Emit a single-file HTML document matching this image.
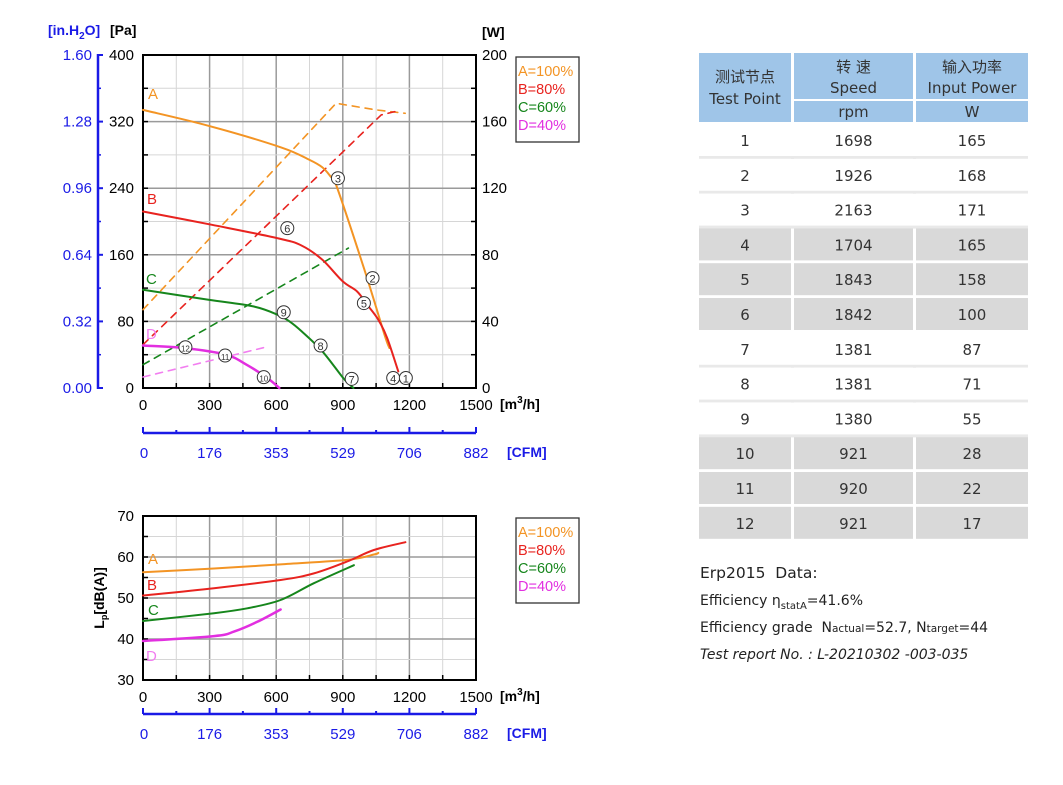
<!DOCTYPE html>
<html><head><meta charset="utf-8">
<style>
html,body{margin:0;padding:0;background:#fff;}
svg{display:block;}
text{font-family:"Liberation Sans",Arial,sans-serif;}
.t{font-family:"DejaVu Sans","Noto Sans CJK SC",sans-serif;}
</style></head>
<body>
<svg id="s" width="1063" height="785" viewBox="0 0 1063 785" xmlns="http://www.w3.org/2000/svg"></svg>
<script>
const S=document.getElementById('s');let h='';
const X=q=>143+q*333/1500, YP=p=>388-p*333/400, YW=w=>388-w*333/200, YD=d=>680-(d-30)*164/40;
function pl(pts,fy,col,w,dash){const P=pts.map(p=>[X(p[0]),fy(p[1])]);let d='M'+P[0][0].toFixed(1)+','+P[0][1].toFixed(1);
for(let i=0;i<P.length-1;i++){if(dash){d+='L'+P[i+1][0].toFixed(1)+','+P[i+1][1].toFixed(1);continue;}
const p0=P[Math.max(0,i-1)],p1=P[i],p2=P[i+1],p3=P[Math.min(P.length-1,i+2)];
const c1=[p1[0]+(p2[0]-p0[0])/6,p1[1]+(p2[1]-p0[1])/6],c2=[p2[0]-(p3[0]-p1[0])/6,p2[1]-(p3[1]-p1[1])/6];
d+=`C${c1[0].toFixed(1)},${c1[1].toFixed(1)} ${c2[0].toFixed(1)},${c2[1].toFixed(1)} ${p2[0].toFixed(1)},${p2[1].toFixed(1)}`;}
h+=`<path d="${d}" fill="none" stroke="${col}" stroke-width="${w}" ${dash?'stroke-dasharray="7,6"':''} stroke-linejoin="round" stroke-linecap="round"/>`;}
function tx(x,y,s,o){o=o||{};h+=`<text x="${x}" y="${y}" font-size="${o.fs||14}" fill="${o.c||'#000'}" text-anchor="${o.a||'start'}" ${o.b?'font-weight="bold"':''} ${o.cls?'class="'+o.cls+'"':''} ${o.it?'font-style="italic"':''}>${s}</text>`;}
const OR='#f39424',RD='#e8231f',GR='#16861c',MG='#e22fe0',PK='#f27ef0',BL='#1a1ae6';
function grid(y0,y1,ny,nMajorEvery){for(let i=1;i<10;i++){const x=143+i*333/10;h+=`<line x1="${x}" y1="${y0}" x2="${x}" y2="${y1}" stroke="${i%2?'#d6d6d6':'#9a9a9a'}" stroke-width="${i%2?1:1.5}"/>`;}
for(let j=1;j<ny;j++){const y=y0+j*(y1-y0)/ny;h+=`<line x1="143" y1="${y}" x2="476" y2="${y}" stroke="${j%nMajorEvery?'#d6d6d6':'#9a9a9a'}" stroke-width="${j%nMajorEvery?1:1.5}"/>`;}
h+=`<rect x="143" y="${y0}" width="333" height="${y1-y0}" fill="none" stroke="#000" stroke-width="2"/>`;
for(let i=1;i<10;i++){const x=143+i*333/10;h+=`<line x1="${x}" y1="${y1}" x2="${x}" y2="${y1-5}" stroke="#000" stroke-width="1.5"/>`;}
for(let j=1;j<ny;j++){const y=y0+j*(y1-y0)/ny;h+=`<line x1="143" y1="${y}" x2="148" y2="${y}" stroke="#000" stroke-width="1.5"/>`;}}
grid(55,388,10,2);
for(let j=1;j<10;j++){const y=55+j*33.3;h+=`<line x1="476" y1="${y}" x2="471" y2="${y}" stroke="#000" stroke-width="1.5"/>`;}
[400,320,240,160,80,0].forEach((v,i)=>{const y=55+i*66.6;tx(134,y+5,v,{a:'end',fs:15});tx(476+6,y+5,v/2,{fs:15});});
['1.60','1.28','0.96','0.64','0.32','0.00'].forEach((v,i)=>{const y=55+i*66.6;tx(92,y+5,v,{a:'end',fs:15,c:BL});h+=`<line x1="98" y1="${y}" x2="103" y2="${y}" stroke="${BL}" stroke-width="2"/>`;});
for(let i=0;i<10;i++){const y=55+33.3+i*66.6;if(y<388)h+=`<line x1="98" y1="${y}" x2="101" y2="${y}" stroke="${BL}" stroke-width="1.5"/>`;}
h+=`<line x1="98" y1="54" x2="98" y2="389" stroke="${BL}" stroke-width="2.5"/>`;
tx(48,35,'[in.H<tspan font-size="10" dy="4">2</tspan><tspan dy="-4">O]</tspan>',{b:1,c:BL,fs:14});
tx(110,35,'[Pa]',{b:1,fs:14});tx(482,37,'[W]',{b:1,fs:14});
function xlab(y0,cy){[0,300,600,900,1200,1500].forEach(v=>tx(X(v),y0+22,v,{a:'middle',fs:15}));
tx(500,y0+21,'[m<tspan font-size="10" dy="-6">3</tspan><tspan dy="6">/h]</tspan>',{b:1,fs:14});
h+=`<line x1="143" y1="${cy}" x2="476" y2="${cy}" stroke="${BL}" stroke-width="2.5"/>`;
for(let i=0;i<=10;i++){const x=143+i*33.3;h+=`<line x1="${x}" y1="${cy}" x2="${x}" y2="${cy-(i%2?3:6)}" stroke="${BL}" stroke-width="2"/>`;}
['0','176','353','529','706','882'].forEach((v,i)=>tx(143+i*66.6+(i==0?1:0),cy+25,v,{a:'middle',fs:15,c:BL}));
tx(507,cy+24,'[CFM]',{b:1,fs:14,c:BL});}
xlab(388,433);
pl([[0,47],[870,171],[1050,167],[1181,165]],YW,OR,1.6,1);
pl([[0,26],[1073,164],[1135,166]],YW,RD,1.6,1);
pl([[0,14],[925,84]],YW,GR,1.6,1);
pl([[0,6.6],[567,25]],YW,PK,1.6,1);
pl([[0,334],[295,315],[622,289],[750,274],[808,265],[845,254],[870,244],[995,144],[1088,64],[1110,48]],YP,OR,2);
pl([[0,212],[311,196],[606,180],[715,171],[808,154],[900,128],[964,116],[1010,100],[1060,82],[1100,60],[1150,20]],YP,RD,2);
pl([[0,118],[295,106],[497,98],[606,88],[660,80],[715,68],[808,44],[902,12],[948,0]],YP,GR,2);
pl([[0,51],[187,48],[373,40],[466,28],[560,12],[614,0]],YP,MG,2.5);
[[3,878,252],[2,1034,132],[5,995,102],[6,650,192],[9,634,91],[8,800,51],[7,940,11],[4,1127,12],[1,1184,12],[12,191,49],[11,370,39],[10,544,13]].forEach(c=>{const x=X(c[1]),y=YP(c[2]);
h+=`<circle cx="${x}" cy="${y}" r="6.5" fill="#fff" stroke="#333" stroke-width="1"/>`;tx(x,y+4.5,c[0],{a:'middle',fs:c[0]>9?8:11,c:'#333'});});
tx(148,99,'A',{c:OR,fs:15});tx(147,204,'B',{c:RD,fs:15});tx(146,284,'C',{c:GR,fs:15});tx(146,339,'D',{c:PK,fs:15});
function legend(y){h+=`<rect x="516" y="${y}" width="63" height="85" fill="#fff" stroke="#333" stroke-width="1.3"/>`;
[['A=100%',OR],['B=80%',RD],['C=60%',GR],['D=40%',MG]].forEach((l,i)=>tx(518,y+19+i*18,l[0],{c:l[1],fs:14.5}));}
legend(57);
grid(516,680,8,2);
[70,60,50,40,30].forEach((v,i)=>tx(134,516+i*41+5,v,{a:'end',fs:15}));
h+=`<text transform="translate(104,598) rotate(-90)" text-anchor="middle" font-size="14" font-weight="bold">L<tspan font-size="9" dy="3">p</tspan><tspan dy="-3">[dB(A)]</tspan></text>`;
xlab(680,714);
pl([[0,56.3],[320,57.2],[620,58.2],[920,59.3],[1040,60.6],[1060,61]],YD,OR,2);
pl([[0,50.6],[320,52.4],[620,54.4],[770,56],[920,58.9],[1040,61.7],[1182,63.6]],YD,RD,2);
pl([[0,44.4],[320,46.3],[470,47.5],[620,49.5],[770,53.6],[950,58]],YD,GR,2);
pl([[0,39.5],[320,40.7],[410,41.8],[515,44.2],[620,47.2]],YD,MG,2.5);
tx(148,564,'A',{c:OR,fs:15});tx(147,590,'B',{c:RD,fs:15});tx(148,615,'C',{c:GR,fs:15});tx(146,661,'D',{c:PK,fs:15});
legend(518);
const cols=[[699,92],[794,119],[916,112]],BLH='#9fc5e8';
h+=`<rect x="${cols[0][0]}" y="53" width="${cols[0][1]}" height="69" fill="${BLH}"/>`;
for(let c=1;c<3;c++){h+=`<rect x="${cols[c][0]}" y="53" width="${cols[c][1]}" height="46" fill="${BLH}"/><rect x="${cols[c][0]}" y="101" width="${cols[c][1]}" height="21" fill="${BLH}"/>`;}
const cx=c=>cols[c][0]+cols[c][1]/2, o={a:'middle',fs:15,c:'#333',cls:'t'};
tx(cx(0),82,'测试节点',o);tx(cx(0),104,'Test Point',o);
tx(cx(1),72,'转 速',o);tx(cx(1),93,'Speed',o);tx(cx(1),117,'rpm',o);
tx(cx(2),72,'输入功率',o);tx(cx(2),93,'Input Power',o);tx(cx(2),117,'W',o);
const data=[[1698,165],[1926,168],[2163,171],[1704,165],[1843,158],[1842,100],[1381,87],[1381,71],[1380,55],[921,28],[920,22],[921,17]];
data.forEach((r,i)=>{const y=124+i*34.8,g=(i>=3&&i<6)||i>=9;
for(let c=0;c<3;c++){h+=`<rect x="${cols[c][0]}" y="${y}" width="${cols[c][1]}" height="32" fill="${g?'#d9d9d9':'#fff'}"/>`;}
if(!g)h+=`<rect x="699" y="${y+32}" width="329" height="3" fill="#e9e9e9"/>`;
const ty=y+22;tx(cx(0),ty,i+1,o);tx(cx(1),ty,r[0],o);tx(cx(2),ty,r[1],o);});
const o2={fs:14,c:'#222',cls:'t'};
tx(700,578,'Erp2015&#160; Data:',{fs:15.5,c:'#222',cls:'t'});
tx(700,605,'Efficiency η<tspan font-size="10" dy="4">statA</tspan><tspan dy="-4">=41.6%</tspan>',o2);
tx(700,632,'Efficiency grade&#160; N<tspan font-size="10.5">actual</tspan>=52.7, N<tspan font-size="10.5">target</tspan>=44',o2);
tx(700,659,'Test report No. : L-20210302 -003-035',{fs:14,c:'#222',cls:'t',it:1});
S.innerHTML=h;
</script>
</body></html>
